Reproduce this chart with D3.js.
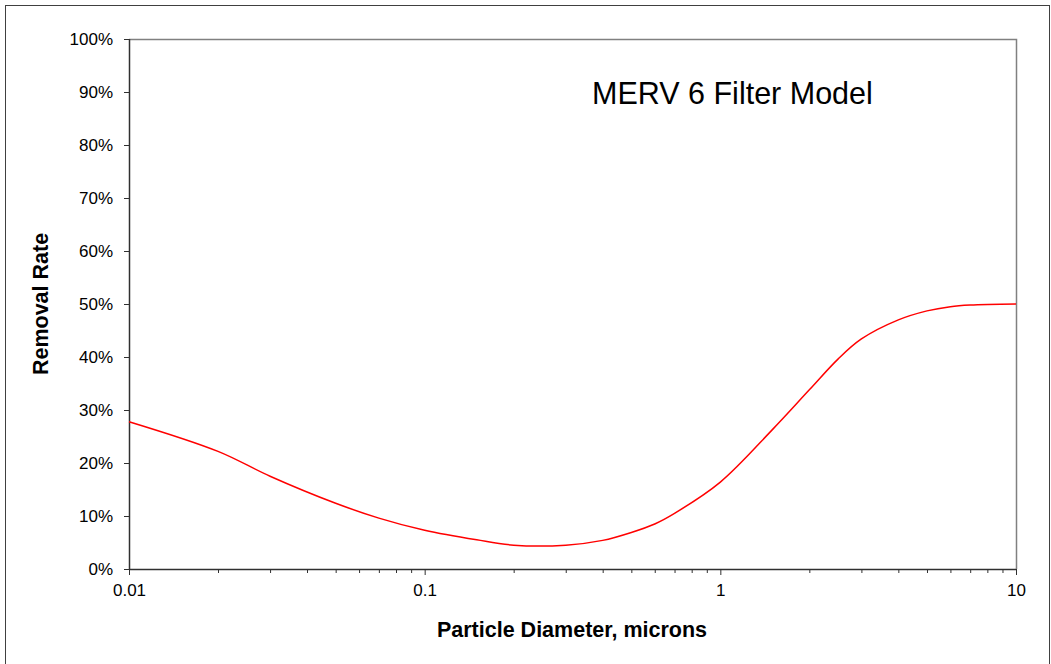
<!DOCTYPE html>
<html><head><meta charset="utf-8">
<script src="https://cdn.jsdelivr.net/npm/d3@7"></script>
<style>body{margin:0;background:#fff}svg{display:block}</style>
</head><body>
<svg id="c" width="1051" height="664"></svg>
<script>
const diameters = [0.01, 0.02, 0.03, 0.05, 0.07, 0.1, 0.15, 0.2, 0.3, 0.4, 0.5, 0.6, 0.7, 1, 1.5, 2, 2.5, 3, 4, 5, 6, 7, 10];
const removal   = [27.8, 22.2, 17.5, 12.4, 9.6, 7.3, 5.5, 4.5, 4.5, 5.4, 6.9, 8.5, 10.5, 16.4, 26.3, 33.8, 39.6, 43.4, 47.0, 48.7, 49.5, 49.8, 50.0];
const xTickValues = [0.01, 0.1, 1, 10];
const xTickLabels = ["0.01", "0.1", "1", "10"];
const yTickValues = [0, 10, 20, 30, 40, 50, 60, 70, 80, 90, 100];
const titleText = "MERV 6 Filter Model";
const xTitle = "Particle Diameter, microns";
const yTitle = "Removal Rate";

const svg = d3.select("#c");
const L = 129, R = 1016, T = 39, B = 569;
const font = "'Liberation Sans', Arial, sans-serif";

svg.append("rect").attr("x",5.5).attr("y",5.5).attr("width",1044).attr("height",700)
  .attr("fill","none").attr("stroke","#404040").attr("stroke-width",1);

const x = d3.scaleLog().domain([0.01,10]).range([L,R]);
const y = d3.scaleLinear().domain([0,100]).range([B,T]);

svg.append("path").attr("d",`M${L},${T+0.5}H${R+0.5}V${B}`).attr("fill","none")
  .attr("stroke","#808080").attr("stroke-width",1.5);

const minor = [];
for (let d=0.01; d<10; d*=10) for (let k=2;k<=9;k++) minor.push(d*k);
const xMinor = d3.axisBottom(x).tickValues(minor).tickSize(4).tickFormat("");
const gxm = svg.append("g").attr("transform",`translate(0,${B})`).call(xMinor);
gxm.select(".domain").remove();
gxm.selectAll("line").attr("stroke","#303030");

const xAxis = d3.axisBottom(x).tickValues(xTickValues).tickSize(6).tickPadding(9)
  .tickFormat((d,i)=>xTickLabels[i]);
const gx = svg.append("g").attr("transform",`translate(0,${B})`).call(xAxis);
gx.select(".domain").attr("stroke","#303030").attr("stroke-width",1.5).attr("d",`M${L},0.5H${R}`);
gx.selectAll("line").attr("stroke","#303030");
gx.selectAll("text").attr("font-family",font).attr("font-size",17).attr("fill","#000");

const yAxis = d3.axisLeft(y).tickValues(yTickValues).tickSize(5).tickPadding(11)
  .tickFormat(d=>d+"%");
const gy = svg.append("g").attr("transform",`translate(${L},0)`).call(yAxis);
gy.select(".domain").attr("stroke","#303030").attr("stroke-width",1.5).attr("d",`M0.5,${T}V${B}`);
gy.selectAll("line").attr("stroke","#303030");
gy.selectAll("text").attr("font-family",font).attr("font-size",17).attr("fill","#000");

const pts = diameters.map((d,i)=>[d, removal[i]]);
svg.append("path").datum(pts)
  .attr("d", d3.line().x(d=>x(d[0])).y(d=>y(d[1])).curve(d3.curveCatmullRom.alpha(0.5)))
  .attr("fill","none").attr("stroke","#ff0000").attr("stroke-width",1.5);

svg.append("text").attr("x",592).attr("y",104).attr("font-family",font)
  .attr("font-size",30.5).attr("fill","#000").text(titleText);

svg.append("text").attr("x",572).attr("y",637).attr("text-anchor","middle")
  .attr("font-family",font).attr("font-weight","bold").attr("font-size",21.5)
  .attr("fill","#000").text(xTitle);

svg.append("text").attr("transform",`translate(48,${(T+B)/2}) rotate(-90)`)
  .attr("text-anchor","middle").attr("font-family",font).attr("font-weight","bold")
  .attr("font-size",21.5).attr("fill","#000").text(yTitle);
</script>
</body></html>
